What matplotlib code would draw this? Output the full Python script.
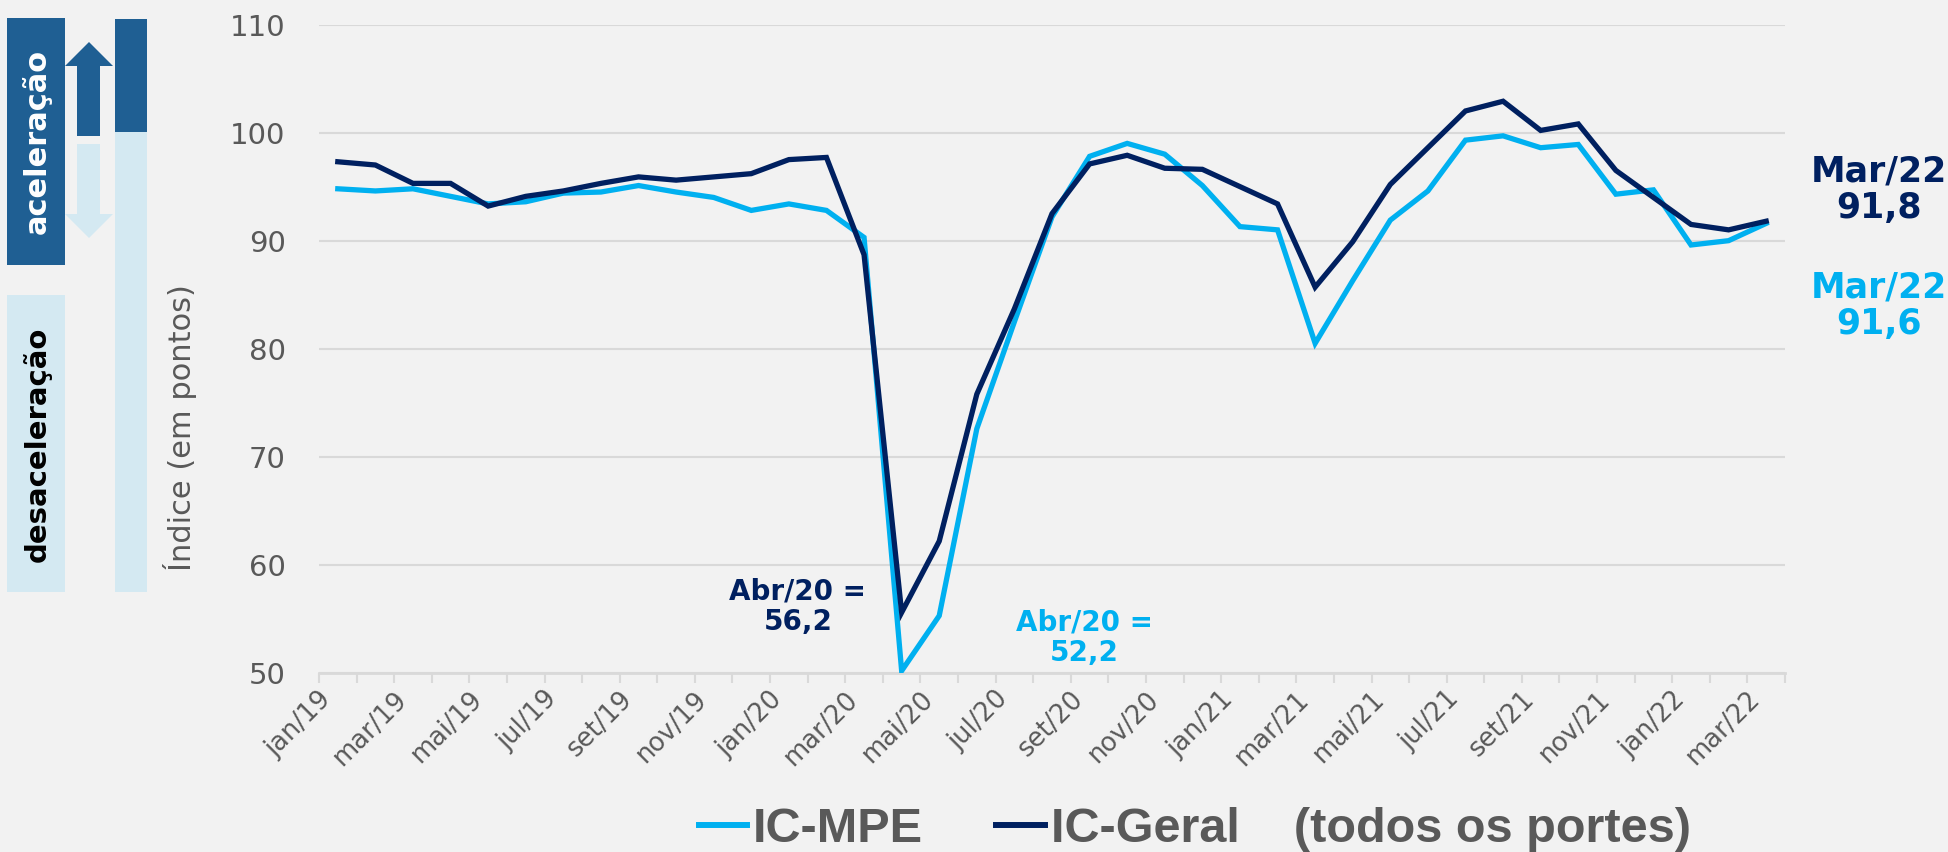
import matplotlib
matplotlib.use('Agg')
import matplotlib.pyplot as plt
from matplotlib.patches import Rectangle, Polygon
from matplotlib.lines import Line2D
from matplotlib.transforms import ScaledTranslation

# meses jan/19 .. mar/22
meses = ['jan/19', 'fev/19', 'mar/19', 'abr/19', 'mai/19', 'jun/19', 'jul/19', 'ago/19',
         'set/19', 'out/19', 'nov/19', 'dez/19',
         'jan/20', 'fev/20', 'mar/20', 'abr/20', 'mai/20', 'jun/20', 'jul/20', 'ago/20',
         'set/20', 'out/20', 'nov/20', 'dez/20',
         'jan/21', 'fev/21', 'mar/21', 'abr/21', 'mai/21', 'jun/21', 'jul/21', 'ago/21',
         'set/21', 'out/21', 'nov/21', 'dez/21',
         'jan/22', 'fev/22', 'mar/22']

ic_mpe = [94.8, 94.6, 94.8, 94.1, 93.4, 93.6, 94.4, 94.5, 95.1, 94.5, 94.0, 92.8,
          93.4, 92.8, 90.3, 50.2, 55.3, 72.6, 82.5, 92.2, 97.8, 99.0, 98.0, 95.1,
          91.3, 91.0, 80.5, 86.3, 91.9, 94.6, 99.3, 99.7, 98.6, 98.9, 94.3, 94.7,
          89.6, 90.0, 91.6]

ic_geral = [97.3, 97.0, 95.3, 95.3, 93.2, 94.1, 94.6, 95.3, 95.9, 95.6, 95.9, 96.2,
            97.5, 97.7, 88.7, 55.6, 62.2, 75.8, 83.7, 92.5, 97.1, 97.9, 96.7, 96.6,
            95.0, 93.4, 85.7, 89.9, 95.2, 98.6, 102.0, 102.9, 100.2, 100.8, 96.5, 94.0,
            91.5, 91.0, 91.8]

y_ticks = [50, 60, 70, 80, 90, 100, 110]

AZUL_CLARO = '#00B0F0'
AZUL_ESCURO = '#002060'
AZUL_BOX = '#1F5F93'
AZUL_BOX_CLARO = '#D4E9F2'
CINZA = '#595959'
GRADE = '#D9D9D9'
FUNDO = '#F2F2F2'

W, H = 1949, 852
fig = plt.figure(figsize=(W / 100, H / 100), dpi=100, facecolor=FUNDO)

# decoration on the left (pixel coords)
deco = fig.add_axes([0, 0, 1, 1], zorder=0)
deco.set_xlim(0, W); deco.set_ylim(H, 0); deco.axis('off')
deco.add_patch(Rectangle((7, 18), 58, 247, color=AZUL_BOX, lw=0))
deco.add_patch(Rectangle((7, 295), 58, 297, color=AZUL_BOX_CLARO, lw=0))
deco.add_patch(Polygon([(77, 136), (77, 66), (65, 66), (89, 42), (113, 66), (100, 66), (100, 136)],
                       closed=True, color=AZUL_BOX, lw=0))
deco.add_patch(Polygon([(77, 144), (77, 214), (65, 214), (89, 238), (113, 214), (100, 214), (100, 144)],
                       closed=True, color=AZUL_BOX_CLARO, lw=0))
deco.add_patch(Rectangle((115, 19), 32, 113, color=AZUL_BOX, lw=0))
deco.add_patch(Rectangle((115, 132), 32, 460, color=AZUL_BOX_CLARO, lw=0))
deco.text(37, 141, 'aceleração', rotation=90, ha='center', va='center', color='white',
          fontsize=22, fontweight='bold')
deco.text(37, 444, 'desaceleração', rotation=90, ha='center', va='center', color='black',
          fontsize=21, fontweight='bold')

# main chart
ax = fig.add_axes([319 / W, 1 - 673 / H, (1785 - 319) / W, (673 - 24.5) / H], zorder=1)
ax.set_facecolor('none')
x = list(range(len(meses)))
ax.plot(x, ic_mpe, color=AZUL_CLARO, lw=3.8, solid_joinstyle='miter', zorder=3)
ax.plot(x, ic_geral, color=AZUL_ESCURO, lw=3.8, solid_joinstyle='miter', zorder=4)

ax.set_xlim(-0.5, len(meses) - 0.5)
ax.set_ylim(50, 110)
ax.set_yticks(y_ticks)
ax.set_yticklabels([str(v) for v in y_ticks])
ax.grid(axis='y', color=GRADE, lw=1.5, zorder=0)
for s in ['top', 'right', 'left']:
    ax.spines[s].set_visible(False)
ax.spines['bottom'].set_color(GRADE)
ax.spines['bottom'].set_linewidth(2)
ax.tick_params(axis='y', length=0, pad=24, labelsize=21, labelcolor=CINZA)

ax.set_xticks(x[::2])
ax.set_xticklabels(meses[::2], rotation=45, ha='right', va='center', rotation_mode='anchor')
ax.set_xticks([i - 0.5 for i in range(len(meses) + 1)], minor=True)
ax.tick_params(axis='x', which='major', length=0, pad=16, labelsize=18.5, labelcolor=CINZA)
ax.tick_params(axis='x', which='minor', length=7, width=1.5, color=GRADE)
off = ScaledTranslation(-10 / 100, 0, fig.dpi_scale_trans)
for lab in ax.get_xticklabels():
    lab.set_transform(lab.get_transform() + off)

ax.set_ylabel('Índice (em pontos)', fontsize=22, color=CINZA)
ax.yaxis.set_label_coords(-0.083, 0.378)

# annotations
ax.text(12.24, 56.1, 'Abr/20 =\n56,2', ha='center', va='center', color=AZUL_ESCURO,
        fontsize=20, fontweight='bold', linespacing=1.1)
ax.text(19.87, 53.25, 'Abr/20 =\n52,2', ha='center', va='center', color=AZUL_CLARO,
        fontsize=20, fontweight='bold', linespacing=1.1)
ax.text(41.0, 94.7, 'Mar/22\n91,8', ha='center', va='center', color=AZUL_ESCURO,
        fontsize=25, fontweight='bold', linespacing=1.1, clip_on=False)
ax.text(41.0, 84.0, 'Mar/22\n91,6', ha='center', va='center', color=AZUL_CLARO,
        fontsize=25, fontweight='bold', linespacing=1.1, clip_on=False)

# legend
handles = [Line2D([], [], color=AZUL_CLARO, lw=4.3),
           Line2D([], [], color=AZUL_ESCURO, lw=4.3)]
leg = fig.legend(handles, ['IC-MPE', 'IC-Geral    (todos os portes)'], loc='center',
                 bbox_to_anchor=(0.613, 0.026), ncol=2, frameon=False,
                 handlelength=1.0, handletextpad=0.12, columnspacing=1.5,
                 prop={'family': 'Liberation Sans', 'weight': 'bold', 'size': 35})
for t in leg.get_texts():
    t.set_color(CINZA)

fig.savefig('out.png', dpi=100, facecolor=FUNDO)
